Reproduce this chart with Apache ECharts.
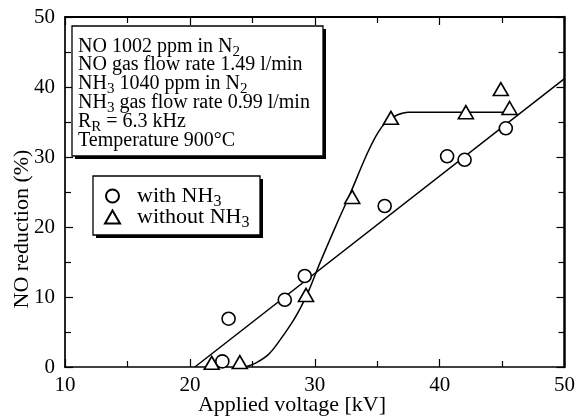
<!DOCTYPE html>
<html>
<head>
<meta charset="utf-8">
<script src="https://cdn.jsdelivr.net/npm/echarts@6/dist/echarts.min.js"></script>
<style>
html,body{margin:0;padding:0;background:#fff;}
#chart{width:578px;height:416px;}
</style>
</head>
<body>
<div id="chart"></div>
<script>
// ---- data ----
const withNH3 = [[22.6,0.8],[23.1,6.9],[27.6,9.6],[29.2,13.0],[35.6,23.0],[40.6,30.1],[42.0,29.6],[45.3,34.1]];
const withoutNH3 = [[21.75,0.6],[24.0,0.7],[29.3,10.3],[33.0,24.3],[36.1,35.6],[42.1,36.4],[44.9,39.7],[45.6,37.0]];
const fitWith = [[20.4,0],[50,41.2]];
const fitWithout = [[24.4,0],[25.3,0.6],[26.3,1.8],[27.2,3.8],[28.2,6.4],[28.9,8.6],[29.5,10.8],[30.4,14.8],[31.7,20.2],[32.8,24.6],[34.2,30.5],[35.1,33.6],[35.8,35.1],[36.6,36.0],[37.5,36.4],[45.6,36.4]];
const xTicks = {min:10, max:50, interval:10};
const yTicks = {min:0, max:50, interval:10};
const seriesNames = ['with NH3','without NH3'];
const boxLines = [
  'NO 1002 ppm in N{s|2}',
  'NO gas flow rate 1.49 l/min',
  'NH{s|3} 1040 ppm in N{s|2}',
  'NH{s|3} gas flow rate 0.99 l/min',
  'R{s|R} = 6.3 kHz',
  'Temperature 900°C'
];
const xTitle = 'Applied voltage [kV]';
const yTitle = 'NO reduction (%)';

const FONT = '"Liberation Serif", "Times New Roman", serif';
const chart = echarts.init(document.getElementById('chart'), null, {renderer:'canvas'});

function axisCommon(showLabel, w){
  return {
    axisLine:{show:true, onZero:false, lineStyle:{color:'#000', width:w}},
    axisTick:{show:true, inside:true, length:8, lineStyle:{color:'#000', width:1.2}},
    minorTick:{show:true, splitNumber:2, length:6, lineStyle:{color:'#000', width:1.2}},
    splitLine:{show:false},
    axisLabel:{show:showLabel, color:'#000', fontFamily:FONT, fontSize:21}
  };
}

const subRich = { s:{fontFamily:FONT, fontSize:15, lineHeight:8, height:8, verticalAlign:'bottom', color:'#000'} };

const option = {
  backgroundColor:'#fff',
  animation:false,
  grid:{left:65, right:11, top:17, bottom:49},
  xAxis:[
    Object.assign({type:'value', position:'bottom', min:xTicks.min, max:xTicks.max, interval:xTicks.interval}, axisCommon(true, 1.7), {axisLabel:{show:true, color:'#000', fontFamily:FONT, fontSize:21, margin:8}}),
    Object.assign({type:'value', position:'top', min:xTicks.min, max:xTicks.max, interval:xTicks.interval}, axisCommon(false, 1.8))
  ],
  yAxis:[
    Object.assign({type:'value', position:'left', min:yTicks.min, max:yTicks.max, interval:yTicks.interval}, axisCommon(true, 1.7), {axisLabel:{show:true, color:'#000', fontFamily:FONT, fontSize:21, margin:10}}),
    Object.assign({type:'value', position:'right', min:yTicks.min, max:yTicks.max, interval:yTicks.interval}, axisCommon(false, 2.5))
  ],
  legend:{
    orient:'vertical',
    left:104, top:185,
    padding:0,
    itemWidth:15, itemHeight:13, itemGap:-4,
    symbolKeepAspect:true,
    z:6,
    data:seriesNames,
    formatter:function(name){ return name.replace('NH3','NH{s|3}'); },
    textStyle:{color:'#000', fontFamily:FONT, fontSize:22, lineHeight:20, padding:[0,0,0,12],
      rich:{s:{fontFamily:FONT, fontSize:16, lineHeight:8, height:8, verticalAlign:'bottom', color:'#000'}}}
  },
  series:[
    {name:'fitWith', type:'line', data:fitWith, showSymbol:false, symbol:'none', lineStyle:{color:'#000', width:1.5}, z:2, silent:true},
    {name:'fitWithout', type:'line', data:fitWithout, showSymbol:false, symbol:'none', smooth:0.35, lineStyle:{color:'#000', width:1.5}, z:2, silent:true},
    {name:seriesNames[0], type:'scatter', data:withNH3, symbol:'circle', symbolSize:13, itemStyle:{color:'#fff', borderColor:'#000', borderWidth:1.6, opacity:1}, z:3},
    {name:seriesNames[1], type:'scatter', data:withoutNH3, symbol:'triangle', symbolSize:[15,13], itemStyle:{color:'#fff', borderColor:'#000', borderWidth:1.6, opacity:1}, z:3}
  ],
  graphic:[
    {type:'rect', z:10, shape:{x:75, y:29, width:251, height:130}, style:{fill:'#000'}},
    {type:'rect', z:11, shape:{x:72, y:26, width:251, height:130}, style:{fill:'#fff', stroke:'#000', lineWidth:1.3}},
    {type:'text', z:12, x:78, y:37, style:{text:boxLines.join('\n'), fill:'#000', fontFamily:FONT, fontSize:20, lineHeight:18.8, align:'left', verticalAlign:'top', rich:subRich}},
    {type:'rect', z:4, shape:{x:96, y:179, width:167, height:59}, style:{fill:'#000'}},
    {type:'rect', z:5, shape:{x:93, y:176, width:167, height:59}, style:{fill:'#fff', stroke:'#000', lineWidth:1.3}},
    {type:'text', z:12, x:292, y:405, style:{text:xTitle, fill:'#000', fontFamily:FONT, fontSize:22, align:'center', verticalAlign:'middle'}},
    {type:'text', z:12, x:22, y:229, rotation:Math.PI/2, style:{text:yTitle, fill:'#000', fontFamily:FONT, fontSize:22, align:'center', verticalAlign:'middle'}}
  ]
};
chart.setOption(option);
</script>
</body>
</html>
